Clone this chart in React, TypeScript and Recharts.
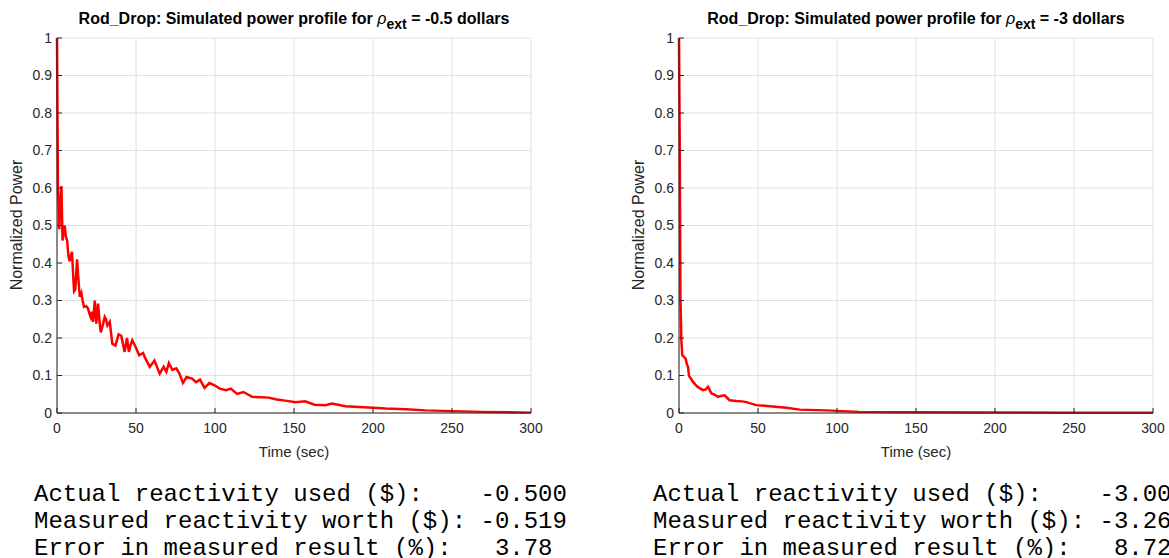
import React from "react";
import { CartesianGrid, Line, LineChart, XAxis, YAxis } from "recharts";

// Time ticks (sec) and power ticks shared by both panels.
const timeTicks = [0, 50, 100, 150, 200, 250, 300];
const powerTicks = [0, 0.1, 0.2, 0.3, 0.4, 0.5, 0.6, 0.7, 0.8, 0.9, 1];

// Left panel: rho_ext = -0.5 dollars.
const leftTime = [
  0, 0.3, 0.6, 1.0, 1.4, 2.0, 2.8, 3.2, 3.5, 4.0, 4.9, 5.6, 6.4, 7.2, 8.0, 8.8, 9.5, 10.2, 10.8, 11.6,
  12.7, 13.5, 14.4, 15.4, 16.2, 17.1, 18.5, 19.6, 20.5, 21.3, 22.0, 22.8, 23.9, 24.9, 26.0, 27.0, 27.7,
  29.0, 30.2, 31.0, 31.9, 33.4, 35.0, 37.0, 38.0, 39.0, 40.7, 42.8, 44.3, 45.5, 46.5, 47.6, 49.8, 52.0,
  54.5, 56.0, 58.7, 61.7, 65.0, 67.5, 69.2, 70.8, 73.0, 75.5, 77.5, 79.7, 82.0, 85.5, 88.0, 90.5, 93.4,
  96.5, 99.7, 103, 107, 110, 114, 118, 123.5, 129, 134, 139, 144.5, 151, 157, 163, 170, 174, 182.5, 191,
  200, 208, 221, 233, 250, 269, 300,
];
const leftPower = [
  1.0, 0.8, 0.6, 0.55, 0.49, 0.55, 0.605, 0.52, 0.46, 0.48, 0.5, 0.47, 0.46, 0.42, 0.405, 0.42, 0.43, 0.37,
  0.325, 0.33, 0.41, 0.36, 0.31, 0.32, 0.3, 0.283, 0.285, 0.279, 0.265, 0.256, 0.27, 0.243, 0.3, 0.238,
  0.292, 0.24, 0.215, 0.235, 0.256, 0.25, 0.233, 0.243, 0.185, 0.18, 0.195, 0.21, 0.206, 0.163, 0.2, 0.163,
  0.18, 0.194, 0.176, 0.154, 0.16, 0.145, 0.123, 0.14, 0.105, 0.123, 0.11, 0.133, 0.115, 0.119, 0.105, 0.08,
  0.096, 0.092, 0.082, 0.089, 0.067, 0.08, 0.074, 0.065, 0.061, 0.065, 0.051, 0.056, 0.043, 0.042, 0.041,
  0.036, 0.033, 0.029, 0.031, 0.022, 0.021, 0.025, 0.018, 0.016, 0.014, 0.012, 0.01, 0.007, 0.005, 0.003,
  0.001,
];

// Right panel: rho_ext = -3 dollars.
const rightTime = [
  0, 0.5, 0.9, 1.5, 2.1, 3.0, 4.2, 5.0, 5.7, 6.3, 6.8, 8.9, 10.5, 12.0, 15.2, 17.0, 18.4, 20.5, 22.5, 24.7,
  27.0, 28.9, 32.0, 36.3, 40.0, 42.6, 48.9, 57.4, 68.0, 76.4, 93.2, 114, 150, 200, 250, 300,
];
const rightPower = [
  1.0, 0.7, 0.31, 0.194, 0.154, 0.15, 0.145, 0.13, 0.123, 0.1, 0.096, 0.083, 0.075, 0.069, 0.061, 0.063,
  0.07, 0.052, 0.049, 0.043, 0.046, 0.047, 0.034, 0.032, 0.031, 0.029, 0.021, 0.018, 0.014, 0.009, 0.007,
  0.003, 0.002, 0.0015, 0.001, 0.0008,
];

const leftReport = [
  "Actual reactivity used ($):    -0.500",
  "Measured reactivity worth ($): -0.519",
  "Error in measured result (%):   3.78",
];
const rightReport = [
  "Actual reactivity used ($):    -3.000",
  "Measured reactivity worth ($): -3.262",
  "Error in measured result (%):   8.72",
];

const INK = "#262626";
const SANS = '"Liberation Sans", Arial, Helvetica, sans-serif';
const MONO = '"Courier New", "Liberation Mono", monospace';

type PanelProps = {
  left: number;
  textLeft: number;
  rho: string;
  time: number[];
  power: number[];
  report: string[];
};

function PowerPanel(props: PanelProps) {
  const data = props.time.map((t, i) => ({ t, p: props.power[i] }));
  const tick = { fill: INK, fontSize: 14 };

  return (
    <div style={{ position: "absolute", left: props.left, top: 0, width: 600, height: 558, fontFamily: SANS }}>
      <div
        style={{
          position: "absolute",
          left: 57,
          width: 474,
          top: 11,
          textAlign: "center",
          fontWeight: "bold",
          fontSize: 16,
          lineHeight: "16px",
          color: "#000",
          whiteSpace: "nowrap",
        }}
      >
        Rod_Drop: Simulated power profile for <i style={{ fontWeight: "normal" }}>ρ</i>
        <sub style={{ fontSize: 14, lineHeight: 0, verticalAlign: -5 }}>ext</sub> = {props.rho} dollars
      </div>
      <div
        style={{
          position: "absolute",
          left: 17,
          top: 225,
          transform: "translate(-50%, -50%) rotate(-90deg)",
          fontSize: 16,
          color: INK,
          whiteSpace: "nowrap",
        }}
      >
        Normalized Power
      </div>
      <div style={{ position: "absolute", left: 0, top: 0 }}>
        <LineChart width={600} height={470} data={data} margin={{ top: 38, right: 69, bottom: 0, left: 0 }}>
          <CartesianGrid stroke="#e0e0e0" />
          <XAxis
            dataKey="t"
            type="number"
            domain={[0, 300]}
            ticks={timeTicks}
            interval={0}
            height={57}
            tick={tick}
            tickSize={-5}
            tickMargin={15}
            stroke={INK}
            label={{ value: "Time (sec)", position: "insideBottom", offset: 13, fill: INK, fontSize: 15 }}
          />
          <XAxis xAxisId="top" orientation="top" type="number" domain={[0, 300]} ticks={timeTicks} height={0} tick={false} tickSize={-5} stroke={INK} />
          <YAxis
            type="number"
            domain={[0, 1]}
            ticks={powerTicks}
            interval={0}
            width={57}
            tick={tick}
            tickSize={-5}
            tickMargin={10}
            stroke={INK}
            tickFormatter={(v: number) => String(Number(v.toFixed(1)))}
          />
          <YAxis yAxisId="right" orientation="right" type="number" domain={[0, 1]} ticks={powerTicks} width={0} tick={false} tickSize={-5} stroke={INK} />
          <Line type="linear" dataKey="p" stroke="#ff0000" strokeWidth={2.5} dot={false} isAnimationActive={false} />
        </LineChart>
      </div>
      <div
        style={{
          position: "absolute",
          left: props.textLeft,
          top: 481,
          fontFamily: MONO,
          fontSize: 24,
          lineHeight: "27px",
          color: "#000",
          whiteSpace: "pre",
        }}
      >
        {props.report.map((line) => (
          <div key={line}>{line}</div>
        ))}
      </div>
    </div>
  );
}

export default function App() {
  return (
    <div style={{ position: "fixed", left: 0, top: 0, width: 1169, height: 558, overflow: "hidden", background: "#fff" }}>
      <PowerPanel left={0} textLeft={34} rho="-0.5" time={leftTime} power={leftPower} report={leftReport} />
      <PowerPanel left={622} textLeft={31} rho="-3" time={rightTime} power={rightPower} report={rightReport} />
    </div>
  );
}
